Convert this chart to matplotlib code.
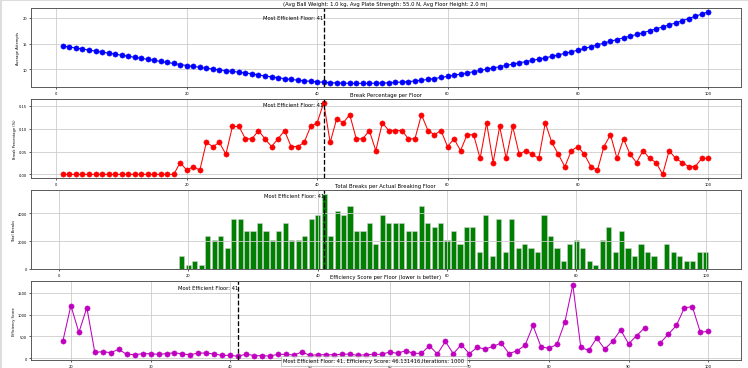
import numpy as np
import matplotlib
matplotlib.use('Agg')
import matplotlib.pyplot as plt
from matplotlib.lines import Line2D

floors = list(range(1, 101))

avg_attempts = [
    14.55, 14.35, 14.15, 13.95, 13.75, 13.55, 13.35, 13.15, 12.95, 12.75,
    12.55, 12.35, 12.15, 11.95, 11.75, 11.55, 11.35, 11.15, 10.95, 10.75,
    10.58, 10.41, 10.24, 10.07, 9.91, 9.76, 9.61, 9.46, 9.31, 9.17,
    8.92, 8.74, 8.56, 8.38, 8.21, 8.06, 7.93, 7.81, 7.70, 7.60,
    7.52, 7.45, 7.39, 7.34, 7.31, 7.29, 7.29, 7.30, 7.33, 7.37,
    7.42, 7.48, 7.56, 7.65, 7.76, 7.90, 8.06, 8.24, 8.44, 8.65,
    8.87, 9.10, 9.33, 9.56, 9.80, 10.04, 10.28, 10.53, 10.78, 11.03,
    11.27, 11.51, 11.75, 11.99, 12.24, 12.52, 12.81, 13.11, 13.41, 13.72,
    14.06, 14.40, 14.75, 15.10, 15.45, 15.78, 16.11, 16.44, 16.77, 17.10,
    17.47, 17.85, 18.23, 18.61, 19.00, 19.42, 19.85, 20.28, 20.71, 21.15,
]

break_pct = [0.0] * 18 + [
    0.026, 0.009, 0.017, 0.009, 0.070, 0.061, 0.070, 0.044, 0.105, 0.105, 0.078, 0.078,
    0.096, 0.078, 0.061, 0.078, 0.096, 0.061, 0.061, 0.070, 0.105, 0.113,
    0.157, 0.070, 0.122, 0.113, 0.131, 0.078, 0.078, 0.096, 0.052, 0.113,
    0.096, 0.096, 0.096, 0.078, 0.078, 0.131, 0.096, 0.087, 0.096, 0.061,
    0.078, 0.052, 0.087, 0.087, 0.035, 0.113, 0.026, 0.105, 0.035, 0.105,
    0.044, 0.052, 0.044, 0.035, 0.113, 0.070, 0.044, 0.017, 0.052, 0.061,
    0.044, 0.017, 0.009, 0.061, 0.087, 0.035, 0.078, 0.044, 0.026, 0.052,
    0.035, 0.026, 0.000, 0.052, 0.035, 0.026, 0.017, 0.017, 0.035, 0.035,
]

total_breaks = [0] * 18 + [
    900, 300, 600, 300, 2400, 2100, 2400, 1500, 3600, 3600, 2700, 2700,
    3300, 2700, 2100, 2700, 3300, 2100, 2100, 2400, 3600, 3900,
    5400, 2400, 4200, 3900, 4500, 2700, 2700, 3300, 1800, 3900,
    3300, 3300, 3300, 2700, 2700, 4500, 3300, 3000, 3300, 2100,
    2700, 1800, 3000, 3000, 1200, 3900, 900, 3600, 1200, 3600,
    1500, 1800, 1500, 1200, 3900, 2400, 1500, 600, 1800, 2100,
    1500, 600, 300, 2100, 3000, 1200, 2700, 1500, 900, 1800,
    1200, 900, 0, 1800, 1200, 900, 600, 600, 1200, 1200,
]

eff_floors = list(range(19, 101))
eff_score = [
    401, 1205, 591, 1159, 136, 152, 129, 205, 91, 83, 106, 106,
    91, 106, 129, 98, 83, 121, 121, 98, 68, 68,
    46.13, 98, 61, 61, 53, 91, 91, 76, 144, 68,
    83, 83, 83, 91, 98, 68, 83, 91, 91, 144,
    114, 174, 114, 114, 288, 98, 386, 106, 311, 106,
    250, 212, 273, 348, 106, 174, 295, 750, 265, 227,
    318, 826, 1682, 250, 182, 462, 212, 386, 652, 333,
    515, 697, np.nan, 356, 553, 750, 1152, 1182, 598, 614,
]

best_floor = 41

fig, axes = plt.subplots(4, 1, figsize=(20, 9.866))
fig.subplots_adjust(left=0.041, right=0.990, top=0.975, bottom=0.022, hspace=0.155)

# light frame on the top and left edges, as in the screenshot
fig.add_artist(Line2D([0, 1], [0.997, 0.997], transform=fig.transFigure, color='#dddddd', linewidth=4))
fig.add_artist(Line2D([0.002, 0.002], [0, 1], transform=fig.transFigure, color='#dddddd', linewidth=4))

ax1, ax2, ax3, ax4 = axes

ax1.plot(floors, avg_attempts, 'o-', color='b', markersize=10, linewidth=2)
ax1.set_title('(Avg Ball Weight: 1.0 kg, Avg Plate Strength: 55.0 N, Avg Floor Height: 2.0 m)', fontsize=10)
ax1.set_ylabel('Average Attempts', fontsize=7)
ax1.set_yticks([10, 15, 20])

ax2.plot(floors, break_pct, 'o-', color='r', markersize=10, linewidth=2)
ax2.set_title('Break Percentage per Floor', fontsize=10)
ax2.set_ylabel('Break Percentage (%)', fontsize=7)
ax2.set_yticks([0.0, 0.05, 0.10, 0.15])

ax3.bar(floors, total_breaks, color='green', edgecolor='lightgray', linewidth=1)
ax3.set_title('Total Breaks per Actual Breaking Floor', fontsize=10)
ax3.set_ylabel('Total Breaks', fontsize=7)
ax3.set_yticks([0, 2000, 4000])

ax4.plot(eff_floors, eff_score, 'o-', color='m', markersize=10, linewidth=2)
ax4.set_title('Efficiency Score per Floor (lower is better)', fontsize=10)
ax4.set_ylabel('Efficiency Score', fontsize=7)
ax4.set_yticks([0, 500, 1000, 1500])

text_y = [0.884, 0.932, 0.928, 0.924]
for ax, ty in zip(axes, text_y):
    ax.axvline(best_floor, color='k', linestyle='--', linewidth=2.5)
    ax.text(best_floor, ty, 'Most Efficient Floor: 41', ha='right', va='center',
            fontsize=10, transform=ax.get_xaxis_transform())
    ax.grid(True, color='#cccccc', linewidth=1.6)
    ax.tick_params(labelsize=7, width=1.2)
    for s in ax.spines.values():
        s.set_linewidth(1.8)
        s.set_color('#555555')

fig.text(0.5, 0.019, 'Most Efficient Floor: 41, Efficiency Score: 46.131416,Iterations: 1000',
         ha='center', va='center', fontsize=10,
         bbox=dict(facecolor='white', edgecolor='gray', alpha=0.8))

plt.savefig('out.png', dpi=37.4)
